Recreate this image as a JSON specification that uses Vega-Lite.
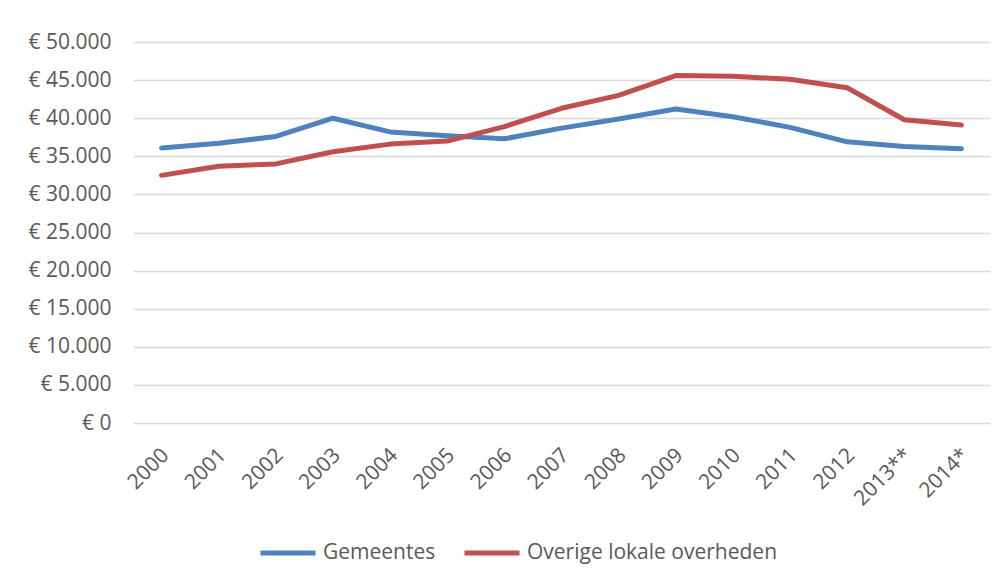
{
  "$schema": "https://vega.github.io/schema/vega-lite/v6.json",
  "width": 857,
  "height": 381,
  "autosize": {"type": "none"},
  "padding": {"left": 133, "top": 42, "right": 13, "bottom": 158},
  "background": "white",
  "data": {
    "values": [
      {"jaar": "2000", "reeks": "Gemeentes", "waarde": 36100},
      {"jaar": "2001", "reeks": "Gemeentes", "waarde": 36700},
      {"jaar": "2002", "reeks": "Gemeentes", "waarde": 37600},
      {"jaar": "2003", "reeks": "Gemeentes", "waarde": 40000},
      {"jaar": "2004", "reeks": "Gemeentes", "waarde": 38200},
      {"jaar": "2005", "reeks": "Gemeentes", "waarde": 37700},
      {"jaar": "2006", "reeks": "Gemeentes", "waarde": 37300},
      {"jaar": "2007", "reeks": "Gemeentes", "waarde": 38700},
      {"jaar": "2008", "reeks": "Gemeentes", "waarde": 39900},
      {"jaar": "2009", "reeks": "Gemeentes", "waarde": 41200},
      {"jaar": "2010", "reeks": "Gemeentes", "waarde": 40200},
      {"jaar": "2011", "reeks": "Gemeentes", "waarde": 38800},
      {"jaar": "2012", "reeks": "Gemeentes", "waarde": 36900},
      {"jaar": "2013**", "reeks": "Gemeentes", "waarde": 36300},
      {"jaar": "2014*", "reeks": "Gemeentes", "waarde": 36000},
      {"jaar": "2000", "reeks": "Overige lokale overheden", "waarde": 32500},
      {"jaar": "2001", "reeks": "Overige lokale overheden", "waarde": 33700},
      {"jaar": "2002", "reeks": "Overige lokale overheden", "waarde": 34000},
      {"jaar": "2003", "reeks": "Overige lokale overheden", "waarde": 35600},
      {"jaar": "2004", "reeks": "Overige lokale overheden", "waarde": 36600},
      {"jaar": "2005", "reeks": "Overige lokale overheden", "waarde": 37000},
      {"jaar": "2006", "reeks": "Overige lokale overheden", "waarde": 38900},
      {"jaar": "2007", "reeks": "Overige lokale overheden", "waarde": 41300},
      {"jaar": "2008", "reeks": "Overige lokale overheden", "waarde": 43000},
      {"jaar": "2009", "reeks": "Overige lokale overheden", "waarde": 45600},
      {"jaar": "2010", "reeks": "Overige lokale overheden", "waarde": 45500},
      {"jaar": "2011", "reeks": "Overige lokale overheden", "waarde": 45100},
      {"jaar": "2012", "reeks": "Overige lokale overheden", "waarde": 44000},
      {"jaar": "2013**", "reeks": "Overige lokale overheden", "waarde": 39800},
      {"jaar": "2014*", "reeks": "Overige lokale overheden", "waarde": 39100}
    ]
  },
  "mark": {"type": "line", "strokeWidth": 5, "strokeCap": "round", "strokeJoin": "round"},
  "encoding": {
    "x": {
      "field": "jaar",
      "type": "ordinal",
      "sort": null,
      "title": null,
      "scale": {"type": "point", "padding": 0.5},
      "axis": {"labelAngle": -45, "labelPadding": 21, "labelOffset": -4, "ticks": false, "domain": false, "grid": false}
    },
    "y": {
      "field": "waarde",
      "type": "quantitative",
      "title": null,
      "scale": {"domain": [0, 50000], "nice": false},
      "axis": {
        "values": [0, 5000, 10000, 15000, 20000, 25000, 30000, 35000, 40000, 45000, 50000],
        "format": "$,.0f",
        "ticks": false,
        "domain": false,
        "labelPadding": 22,
        "grid": true
      }
    },
    "color": {
      "field": "reeks",
      "type": "nominal",
      "scale": {"range": ["#4F81BD", "#C0504D"]},
      "legend": {
        "title": null,
        "orient": "none",
        "legendX": 125,
        "legendY": 481,
        "direction": "horizontal",
        "symbolType": "stroke",
        "symbolSize": 3025,
        "symbolStrokeWidth": 5,
        "labelOffset": 5,
        "columnPadding": 18,
        "labelLimit": 400
      }
    }
  },
  "config": {
    "locale": {
      "number": {"decimal": ",", "thousands": ".", "grouping": [3], "currency": ["€ ", ""]}
    },
    "font": "Open Sans",
    "view": {"stroke": null},
    "axis": {
      "labelFont": "Open Sans",
      "labelFontSize": 21,
      "labelColor": "#595959",
      "gridColor": "#D9D9D9",
      "gridWidth": 1.3
    },
    "legend": {
      "labelFont": "Open Sans",
      "labelFontSize": 21,
      "labelColor": "#595959"
    }
  }
}
